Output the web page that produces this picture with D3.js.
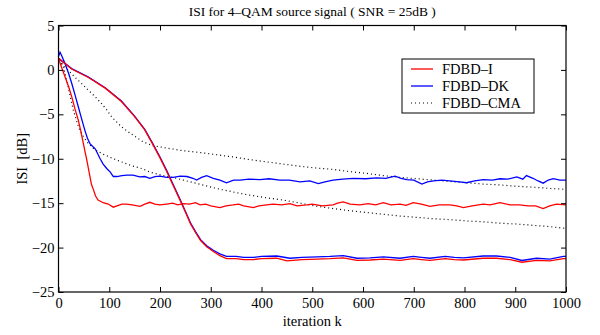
<!DOCTYPE html>
<html>
<head>
<meta charset="utf-8">
<script src="https://cdn.jsdelivr.net/npm/d3@7"></script>
<style>
  html, body { margin: 0; padding: 0; background: #fff; }
  svg text { font-family: "Liberation Serif", "Times New Roman", Times, "DejaVu Serif", serif; fill: #000; }
</style>
</head>
<body>
<div id="chart"></div>
<script>

// data: [iteration k, ISI dB]
const fdbdIFast = [[0,1.3],[6,0.3],[13,-0.8],[20,-1.9],[26,-3.0],[32,-4.3],[39,-5.65],[44,-6.9],[49,-8.3],[53,-9.4],[56,-10.2],[59,-11.1],[62,-12.0],[65,-12.9],[69,-13.5],[73,-14.2],[78,-14.65],[88,-14.95],[98,-15.1],[108,-15.45],[115,-15.3],[125,-15.1],[134,-15.1],[145,-15.2],[161,-15.35],[170,-15.1],[180,-14.9],[190,-15.1],[200,-15.2],[213,-15.1],[225,-15.0],[235,-15.2],[246,-15.05],[258,-15.1],[270,-14.95],[279,-15.2],[290,-15.1],[300,-15.3],[318,-15.5],[330,-15.3],[344,-15.2],[355,-15.1],[365,-15.3],[384,-15.5],[395,-15.3],[410,-15.2],[423,-15.1],[440,-15.2],[456,-15.05],[470,-15.3],[489,-15.2],[500,-15.1],[520,-15.3],[541,-15.2],[550,-15.0],[561,-14.85],[575,-15.1],[594,-15.2],[610,-15.05],[625,-15.2],[640,-14.95],[655,-15.2],[673,-15.1],[685,-15.25],[699,-14.95],[715,-15.1],[732,-15.35],[750,-15.2],[771,-15.2],[785,-15.3],[798,-15.5],[815,-15.3],[837,-15.1],[850,-15.2],[870,-14.95],[890,-15.2],[909,-15.2],[925,-15.3],[940,-15.3],[955,-15.6],[968,-15.3],[981,-15.1],[1000,-15.2]];

const fdbdDKFast = [[0,1.5],[3,2.0],[7,1.5],[13,0.7],[20,-0.4],[26,-1.5],[32,-2.7],[39,-4.15],[45,-5.4],[52,-6.8],[57,-7.7],[62,-8.3],[67,-8.6],[72,-8.85],[77,-9.4],[82,-10.0],[88,-10.6],[95,-11.1],[102,-11.5],[108,-12.0],[115,-12.0],[125,-11.9],[135,-11.85],[147,-11.85],[160,-12.05],[170,-12.0],[180,-12.2],[190,-12.0],[200,-11.95],[213,-12.1],[226,-12.1],[240,-11.95],[253,-12.0],[265,-12.2],[272,-12.4],[282,-12.1],[292,-11.9],[305,-12.2],[318,-12.4],[331,-12.7],[345,-12.4],[358,-12.4],[375,-12.3],[397,-12.35],[415,-12.25],[436,-12.4],[455,-12.4],[476,-12.6],[495,-12.5],[512,-12.8],[525,-12.6],[541,-12.4],[560,-12.3],[581,-12.2],[605,-12.25],[627,-12.15],[645,-12.2],[663,-11.95],[675,-12.2],[686,-12.35],[700,-12.4],[716,-12.85],[727,-12.6],[739,-12.5],[755,-12.4],[771,-12.5],[790,-12.6],[804,-12.7],[820,-12.5],[837,-12.35],[855,-12.4],[870,-12.25],[885,-12.3],[903,-12.05],[915,-12.3],[922,-11.9],[935,-12.2],[945,-12.5],[955,-12.75],[965,-12.4],[975,-12.25],[988,-12.4],[1000,-12.4]];

const cmaFast = [[0,1.0],[5,0.9],[10,0.3],[19,-1.9],[29,-4.5],[36,-5.8],[42,-6.8],[50,-7.6],[59,-8.3],[70,-8.9],[85,-9.4],[100,-9.8],[124,-10.35],[145,-10.8],[164,-11.1],[180,-11.5],[203,-11.85],[225,-12.1],[246,-12.4],[280,-12.9],[312,-13.35],[345,-13.75],[377,-14.1],[410,-14.4],[443,-14.65],[476,-15.0],[509,-15.35],[540,-15.6],[574,-15.85],[607,-16.05],[640,-16.25],[673,-16.45],[706,-16.6],[739,-16.75],[771,-16.85],[804,-17.0],[837,-17.1],[870,-17.25],[903,-17.35],[936,-17.5],[970,-17.65],[1000,-17.85]];

const cmaSlow = [[0,1.0],[6,0.7],[15,0.2],[32,-0.8],[45,-1.5],[59,-2.3],[72,-3.0],[85,-3.8],[95,-4.5],[105,-5.3],[124,-6.4],[138,-7.0],[151,-7.5],[167,-8.1],[184,-8.5],[213,-8.8],[246,-9.1],[279,-9.3],[312,-9.55],[344,-9.8],[377,-10.1],[410,-10.35],[443,-10.6],[476,-10.85],[509,-11.05],[541,-11.2],[574,-11.45],[607,-11.65],[640,-11.9],[673,-12.1],[706,-12.25],[739,-12.4],[771,-12.55],[804,-12.7],[837,-12.85],[870,-12.95],[903,-13.1],[936,-13.2],[970,-13.35],[1000,-13.45]];

const fdbdDKSlow = [[0,1.3],[26,0.15],[59,-0.8],[92,-2.0],[124,-3.5],[150,-5.2],[170,-6.7],[185,-8.2],[200,-9.8],[213,-11.3],[226,-12.9],[239,-14.5],[250,-15.9],[260,-17.2],[270,-18.2],[280,-19.1],[292,-19.8],[305,-20.3],[318,-20.7],[331,-21.0],[350,-21.0],[365,-21.1],[384,-21.1],[400,-21.0],[430,-20.95],[456,-21.2],[480,-21.1],[510,-21.05],[535,-21.0],[561,-20.9],[588,-21.2],[614,-21.15],[640,-21.05],[673,-21.2],[699,-21.0],[715,-21.1],[732,-21.2],[762,-21.0],[780,-21.1],[798,-21.15],[837,-20.95],[863,-20.95],[890,-21.1],[913,-21.45],[942,-21.2],[968,-21.3],[995,-21.0],[1000,-21.0]];

const fdbdISlow = [[0,1.3],[26,0.1],[59,-0.85],[92,-2.05],[124,-3.55],[150,-5.25],[170,-6.75],[185,-8.3],[200,-9.9],[213,-11.4],[226,-13.0],[239,-14.6],[250,-16.0],[260,-17.3],[270,-18.3],[280,-19.2],[292,-19.9],[305,-20.45],[318,-20.9],[331,-21.25],[350,-21.25],[365,-21.35],[384,-21.35],[400,-21.25],[430,-21.2],[450,-21.5],[480,-21.35],[510,-21.3],[535,-21.25],[561,-21.15],[588,-21.45],[614,-21.4],[640,-21.3],[673,-21.45],[699,-21.25],[715,-21.35],[732,-21.45],[762,-21.25],[780,-21.35],[798,-21.4],[837,-21.2],[863,-21.2],[890,-21.35],[913,-21.65],[942,-21.45],[968,-21.5],[995,-21.25],[1000,-21.25]];

// tick labels
const xTicks = [0, 100, 200, 300, 400, 500, 600, 700, 800, 900, 1000];
const yTicks = [-25, -20, -15, -10, -5, 0, 5];

// legend entries
const legendLabels = ['FDBD\u2013I', 'FDBD\u2013DK', 'FDBD\u2013CMA'];

// chart size
const width = 600;
const height = 335;
const margins = { top: 25.5, bottom: 43, left: 58.5, right: 34 };
const innerW = width - margins.left - margins.right;
const innerH = height - margins.top - margins.bottom;
const serif = '"Liberation Serif", "Times New Roman", Times, serif';

const svg = d3.select('#chart')
    .append('svg')
    .attr('width', width)
    .attr('height', height)
    .attr('font-family', serif);

const group = svg.append('g')
    .attr('transform', `translate(${margins.left},${margins.top})`);

// scales
const xScale = d3.scaleLinear().domain([0, 1000]).range([0, innerW]);
const yScale = d3.scaleLinear().domain([-25, 5]).range([innerH, 0]);

// clip
svg.append('clipPath').attr('id', 'plotclip')
    .append('rect').attr('width', innerW).attr('height', innerH);

// line generator
const line = d3.line()
    .x(d => xScale(d[0]))
    .y(d => yScale(d[1]));

const series = [
    { data: cmaSlow, color: '#000', dash: '1,3' },
    { data: cmaFast, color: '#000', dash: '1,3' },
    { data: fdbdDKFast, color: '#0000ff', dash: null },
    { data: fdbdIFast, color: '#ff0000', dash: null },
    { data: fdbdDKSlow, color: '#0000ff', dash: null },
    { data: fdbdISlow, color: '#ff0000', dash: null }
];

const plot = group.append('g').attr('clip-path', 'url(#plotclip)');

plot.selectAll('.line')
    .data(series)
    .join('path')
    .attr('class', 'line')
    .attr('fill', 'none')
    .attr('stroke', s => s.color)
    .attr('stroke-width', s => s.dash ? 1.2 : 1.3)
    .attr('stroke-dasharray', s => s.dash)
    .attr('d', s => line(s.data));

// axes
const tickLen = 5;
const xAxisBottom = group.append('g')
    .attr('transform', `translate(0,${innerH})`)
    .call(d3.axisBottom(xScale).tickValues(xTicks).tickSizeInner(-tickLen).tickSizeOuter(0).tickPadding(6)
        .tickFormat(d3.format('d')));
const xAxisTop = group.append('g')
    .call(d3.axisTop(xScale).tickValues(xTicks).tickSizeInner(-tickLen).tickSizeOuter(0).tickFormat(''));
const yAxisLeft = group.append('g')
    .call(d3.axisLeft(yScale).tickValues(yTicks).tickSizeInner(-tickLen).tickSizeOuter(0).tickPadding(4)
        .tickFormat(d => d < 0 ? '\u2212' + Math.abs(d) : d));
const yAxisRight = group.append('g')
    .attr('transform', `translate(${innerW},0)`)
    .call(d3.axisRight(yScale).tickValues(yTicks).tickSizeInner(-tickLen).tickSizeOuter(0).tickFormat(''));

[xAxisBottom, xAxisTop, yAxisLeft, yAxisRight].forEach(a => {
    a.attr('font-family', serif).attr('font-size', 14.5);
    a.select('.domain').remove();
    a.selectAll('line').attr('stroke', '#000').attr('stroke-width', 1);
});

// box
group.append('rect')
    .attr('width', innerW)
    .attr('height', innerH)
    .attr('fill', 'none')
    .attr('stroke', '#000')
    .attr('stroke-width', 1.2);

// title and labels
svg.append('text')
    .attr('x', margins.left + innerW / 2)
    .attr('y', 16)
    .attr('text-anchor', 'middle')
    .attr('font-size', 13.5)
    .text('ISI for 4\u2013QAM source signal ( SNR = 25dB )');

svg.append('text')
    .attr('x', margins.left + innerW / 2)
    .attr('y', 326)
    .attr('text-anchor', 'middle')
    .attr('font-size', 14.5)
    .text('iteration k');

svg.append('text')
    .attr('transform', `translate(27,${margins.top + innerH / 2}) rotate(-90)`)
    .attr('text-anchor', 'middle')
    .attr('font-size', 14.5)
    .style('white-space', 'pre')
    .text('ISI  [dB]');

// legend
const legend = svg.append('g').attr('transform', 'translate(402,59)');
legend.append('rect')
    .attr('width', 132)
    .attr('height', 54)
    .attr('fill', '#fff')
    .attr('stroke', '#000')
    .attr('stroke-width', 1);

const legendItems = legend.selectAll('.item')
    .data(legendLabels)
    .join('g')
    .attr('class', 'item')
    .attr('transform', (d, i) => `translate(0,${10 + i * 17})`);

legendItems.append('line')
    .attr('x1', 9).attr('x2', 31)
    .attr('stroke', (d, i) => ['#ff0000', '#0000ff', '#000'][i])
    .attr('stroke-width', (d, i) => i === 2 ? 1 : 1.3)
    .attr('stroke-dasharray', (d, i) => i === 2 ? '1,3' : null);

legendItems.append('text')
    .attr('x', 40)
    .attr('y', 5)
    .attr('font-size', 14.5)
    .text(d => d);

</script>
</body>
</html>
